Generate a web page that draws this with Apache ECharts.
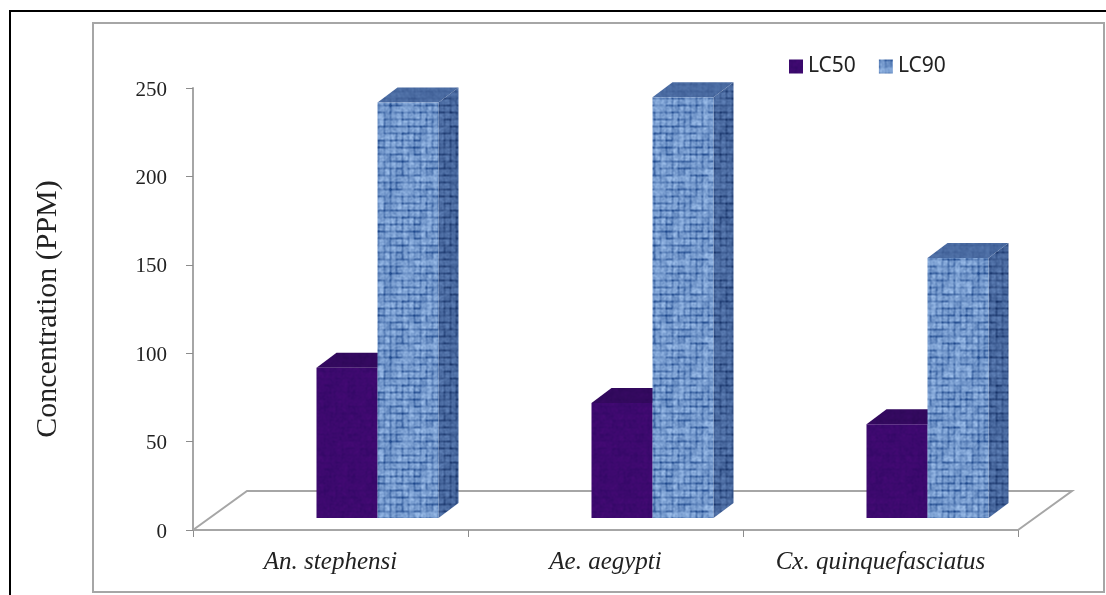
<!DOCTYPE html>
<html>
<head>
<meta charset="utf-8">
<style>
  html, body { margin: 0; padding: 0; background: #fff; }
  #chart { width: 1106px; height: 595px; }
</style>
<script src="https://cdn.jsdelivr.net/npm/echarts@6/dist/echarts.min.js"></script>
</head>
<body>
<div id="chart"></div>
<script>
// values
const categories = ['An. stephensi', 'Ae. aegypti', 'Cx. quinquefasciatus'];
const lc50 = [85, 65, 53];
const lc90 = [235, 238, 147];
const yTicks = [0, 50, 100, 150, 200, 250];

// fake 3D offsets, in px
const barDepthX = 20;
const barDepthY = -15;
const floorDepthX = 54;
const floorDepthY = -39;
const barLift = 12;   // bars stand on the floor, above the axis line
const barShift = 47;  // pair of bars sits right of the band centre
const barWidth = 61;

function noise(x, y, seed) {
  const n = Math.sin(x * 12.9898 + y * 78.233 + seed * 37.719) * 43758.5453;
  return n - Math.floor(n);
}

// woven texture used as a canvas pattern: rows and columns of dark stitches, then softened
function makeTexture(light, dark, weave, seed) {
  const size = 84;
  const raw = [];
  for (let y = 0; y < size; y++) {
    for (let x = 0; x < size; x++) {
      const cellX = Math.floor(x / 6);
      const cellY = Math.floor(y / 7);
      let t = 0.74 + (noise(x, y, seed) - 0.5) * 0.5;
      t += (noise(cellX, cellY, seed + 1) - 0.5) * 0.18;
      if (y % 7 === 0) t -= weave * (0.2 + 0.8 * noise(cellX, y, seed + 2));
      if (x % 6 === 0) t -= weave * (0.1 + 0.6 * noise(x, cellY, seed + 3));
      raw.push(t);
    }
  }
  const c = document.createElement('canvas');
  c.width = c.height = size;
  const ctx = c.getContext('2d');
  const img = ctx.createImageData(size, size);
  for (let y = 0; y < size; y++) {
    for (let x = 0; x < size; x++) {
      let sum = 0;
      for (let j = -1; j <= 1; j++) {
        for (let i = -1; i <= 1; i++) {
          const w = (i === 0 ? 2 : 1) * (j === 0 ? 2 : 1);
          sum += w * raw[((y + j + size) % size) * size + (x + i + size) % size];
        }
      }
      const t = Math.max(0, Math.min(1, sum / 16));
      const p = (y * size + x) * 4;
      for (let k = 0; k < 3; k++) {
        img.data[p + k] = dark[k] + (light[k] - dark[k]) * t;
      }
      img.data[p + 3] = 255;
    }
  }
  ctx.putImageData(img, 0, 0);
  return { image: c, repeat: 'repeat' };
}

const blueFront = makeTexture([165, 198, 240], [30, 72, 140], 1, 1);
const blueSide = makeTexture([100, 134, 188], [22, 50, 104], 1, 2);
const blueTop = makeTexture([88, 122, 176], [42, 72, 128], 0.4, 3);
const purpleFront = makeTexture([70, 10, 118], [36, 6, 90], 0.25, 4);
const purpleTop = makeTexture([56, 10, 100], [36, 6, 78], 0.2, 5);

// one box: front face, side and top, positioned through the axes
function boxRenderer(seriesIndex, front, side, top) {
  return function (params, api) {
    const base = api.coord([api.value(0), 0]);
    const head = api.coord([api.value(0), api.value(1)]);
    const x0 = base[0] + barShift + (seriesIndex - 1) * barWidth;
    const x1 = x0 + barWidth;
    const y0 = base[1] - barLift;
    const y1 = head[1] - barLift;
    const dx = barDepthX;
    const dy = barDepthY;
    return {
      type: 'group',
      children: [
        { type: 'polygon', shape: { points: [[x1, y0], [x1 + dx, y0 + dy], [x1 + dx, y1 + dy], [x1, y1]] }, style: { fill: side } },
        { type: 'polygon', shape: { points: [[x0, y1], [x0 + dx, y1 + dy], [x1 + dx, y1 + dy], [x1, y1]] }, style: { fill: top } },
        { type: 'rect', shape: { x: x0, y: y1, width: barWidth, height: y0 - y1 }, style: { fill: front } }
      ]
    };
  };
}

// floor outline behind the bars
function floorRenderer(params, api) {
  const band = api.size([1, 0])[0];
  const a = api.coord([0, 0]);
  const b = api.coord([categories.length - 1, 0]);
  const left = a[0] - band / 2;
  const right = b[0] + band / 2;
  return {
    type: 'polyline',
    shape: { points: [
      [left, a[1]],
      [left + floorDepthX, a[1] + floorDepthY],
      [right + floorDepthX, a[1] + floorDepthY],
      [right, a[1]]
    ] },
    style: { fill: 'none', stroke: '#a6a6a6', lineWidth: 2 }
  };
}

const chart = echarts.init(document.getElementById('chart'));
chart.setOption({
  animation: false,
  backgroundColor: '#fff',
  grid: { left: 193, right: 88, top: 88, bottom: 65 },
  legend: {
    left: 789,
    top: 56,
    padding: 0,
    data: ['LC50', 'LC90'],
    icon: 'rect',
    itemWidth: 14,
    itemHeight: 14,
    itemGap: 23,
    textStyle: { fontFamily: 'Noto Sans', fontSize: 21, color: '#222' }
  },
  xAxis: {
    type: 'category',
    data: categories,
    axisLine: { lineStyle: { color: '#a6a6a6', width: 2 } },
    axisTick: { show: true, length: 7, lineStyle: { color: '#8c8c8c' } },
    axisLabel: { fontFamily: 'Liberation Serif', fontStyle: 'italic', fontSize: 25, color: '#222', margin: 20 }
  },
  yAxis: {
    type: 'value',
    min: yTicks[0],
    max: yTicks[yTicks.length - 1],
    interval: 50,
    name: 'Concentration (PPM)',
    nameLocation: 'middle',
    nameGap: 130,
    nameRotate: 90,
    nameTextStyle: { fontFamily: 'Liberation Serif', fontSize: 30, color: '#222' },
    splitLine: { show: false },
    axisLine: { show: true, lineStyle: { color: '#a6a6a6', width: 2 } },
    axisTick: { show: true, length: 7, lineStyle: { color: '#8c8c8c' } },
    axisLabel: {
      margin: 26,
      formatter: '{t|{value}}',
      rich: { t: { fontFamily: 'Liberation Serif', fontSize: 21, color: '#222', padding: [4, 0, 0, 0] } }
    }
  },
  graphic: [
    // black outer line and grey chart frame
    { type: 'polyline', silent: true, z: -1, shape: { points: [[10, 595], [10, 11], [1106, 11]] }, style: { fill: 'none', stroke: '#000', lineWidth: 2 } },
    { type: 'rect', silent: true, z: -1, shape: { x: 93, y: 23, width: 1011, height: 569 }, style: { fill: 'none', stroke: '#a6a6a6', lineWidth: 2 } }
  ],
  series: [
    {
      name: 'floor',
      type: 'custom',
      renderItem: floorRenderer,
      data: [[0, 0]],
      encode: { x: 0, y: 1 },
      z: 1
    },
    {
      name: 'LC50',
      type: 'custom',
      renderItem: boxRenderer(0, purpleFront, purpleTop, purpleTop),
      itemStyle: { color: purpleFront },
      data: lc50.map((v, i) => [i, v]),
      encode: { x: 0, y: 1 },
      z: 2
    },
    {
      name: 'LC90',
      type: 'custom',
      renderItem: boxRenderer(1, blueFront, blueSide, blueTop),
      itemStyle: { color: blueFront },
      data: lc90.map((v, i) => [i, v]),
      encode: { x: 0, y: 1 },
      z: 3
    }
  ]
});
</script>
</body>
</html>
